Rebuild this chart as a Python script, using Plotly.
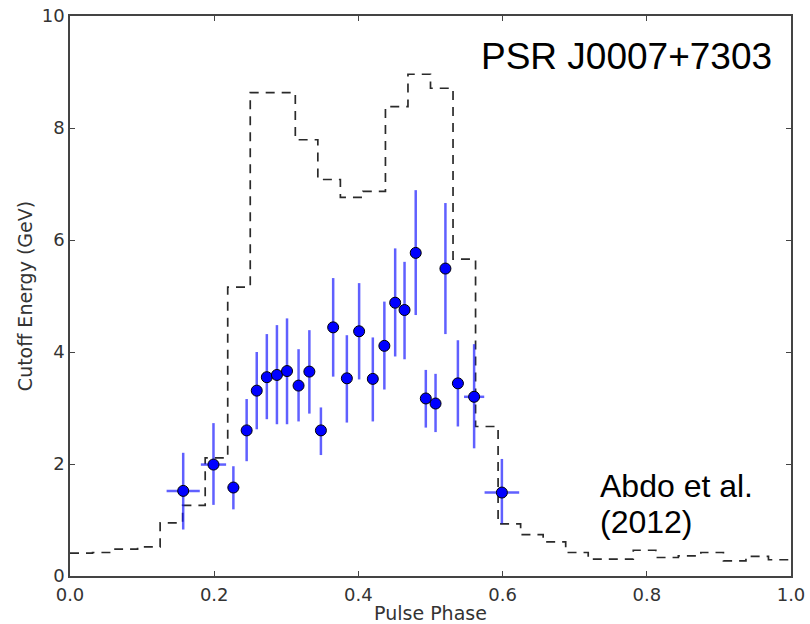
import plotly.graph_objects as go

# Dashed histogram (pulse profile, scaled)
hist_edges = [0.0, 0.03125, 0.0625, 0.09375, 0.125, 0.15625, 0.1875, 0.21875,
              0.25, 0.28125, 0.3125, 0.34375, 0.375, 0.40625, 0.4375, 0.46875,
              0.5, 0.53125, 0.5625, 0.59375, 0.625, 0.65625, 0.6875, 0.71875,
              0.75, 0.78125, 0.8125, 0.84375, 0.875, 0.90625, 0.9375, 0.96875, 1.0]
hist_vals = [0.41, 0.42, 0.48, 0.52, 0.95, 1.26, 2.11, 5.16,
             8.63, 8.63, 7.79, 7.08, 6.76, 6.87, 8.38, 8.96,
             8.71, 5.66, 2.67, 0.93, 0.74, 0.61, 0.42, 0.30,
             0.30, 0.46, 0.33, 0.36, 0.42, 0.27, 0.35, 0.29]

# Cutoff energy points
phase = [0.157, 0.199, 0.2266, 0.245, 0.259, 0.273, 0.287, 0.301, 0.317, 0.332,
         0.348, 0.365, 0.384, 0.401, 0.420, 0.436, 0.451, 0.464, 0.4795, 0.4935,
         0.507, 0.5207, 0.538, 0.5605, 0.599]
energy = [1.52, 1.99, 1.58, 2.60, 3.31, 3.55, 3.59, 3.66, 3.40, 3.65,
          2.60, 4.44, 3.53, 4.37, 3.52, 4.11, 4.88, 4.75, 5.77, 3.17,
          3.08, 5.49, 3.44, 3.20, 1.49]
err_hi = [0.68, 0.74, 0.38, 0.56, 0.69, 0.77, 0.89, 0.94, 0.65, 0.74,
          0.41, 0.88, 0.77, 0.86, 0.74, 0.79, 0.97, 0.86, 1.12, 0.51,
          0.53, 1.17, 0.77, 0.94, 0.60]
err_lo = [0.69, 0.72, 0.39, 0.55, 0.69, 0.75, 0.88, 0.95, 0.64, 0.75,
          0.44, 0.88, 0.79, 0.86, 0.76, 0.78, 0.96, 0.88, 1.11, 0.52,
          0.51, 1.17, 0.77, 0.92, 0.55]
phase_err = [0.023, 0.0175, 0.008, 0.006, 0.006, 0.006, 0.006, 0.006, 0.006, 0.006,
             0.006, 0.006, 0.006, 0.006, 0.006, 0.006, 0.006, 0.006, 0.006, 0.006,
             0.006, 0.006, 0.008, 0.014, 0.024]

x_ticks = [0.0, 0.2, 0.4, 0.6, 0.8, 1.0]
x_ticklabels = ["0.0", "0.2", "0.4", "0.6", "0.8", "1.0"]
y_ticks = [0, 2, 4, 6, 8, 10]
y_ticklabels = ["0", "2", "4", "6", "8", "10"]

fig = go.Figure()

fig.add_trace(go.Scatter(
    x=hist_edges,
    y=hist_vals + [hist_vals[-1]],
    mode="lines",
    line=dict(shape="hv", color="#2a2a2a", width=1.7, dash="9px,7px"),
    hoverinfo="skip",
    showlegend=False,
))

fig.add_trace(go.Scatter(
    x=phase,
    y=energy,
    mode="markers",
    marker=dict(color="#0000ff", size=11, line=dict(color="black", width=1)),
    error_y=dict(type="data", symmetric=False, array=err_hi, arrayminus=err_lo,
                 color="rgba(20,20,255,0.68)", thickness=2.5, width=0),
    error_x=dict(type="data", array=phase_err,
                 color="rgba(20,20,255,0.68)", thickness=2.5, width=0),
    showlegend=False,
))

axis_common = dict(
    showline=True, linecolor="#444444", linewidth=1.5, mirror="ticks",
    ticks="inside", ticklen=5, tickwidth=1, tickcolor="#444444",
    showgrid=False, zeroline=False, automargin=False,
    tickfont=dict(family="DejaVu Sans", size=18, color="#333333"),
    title_font=dict(family="DejaVu Sans", size=19, color="#333333"),
)

fig.update_xaxes(range=[0, 1.0], tickvals=x_ticks, ticktext=x_ticklabels,
                 ticklabelstandoff=2,
                 title_text="Pulse Phase", title_standoff=5, **axis_common)
fig.update_yaxes(range=[0, 10], tickvals=y_ticks, ticktext=y_ticklabels,
                 title_text="Cutoff Energy (GeV)", title_standoff=4, **axis_common)

fig.add_annotation(xref="paper", yref="paper", x=0.976, y=0.928,
                   xanchor="right", yanchor="middle", showarrow=False,
                   text="PSR J0007+7303",
                   font=dict(family="Liberation Sans", size=37, color="black"))
fig.add_annotation(xref="paper", yref="paper", x=0.732, y=0.161,
                   xanchor="left", yanchor="middle", showarrow=False,
                   text="Abdo et al.",
                   font=dict(family="Liberation Sans", size=32, color="black"))
fig.add_annotation(xref="paper", yref="paper", x=0.732, y=0.097,
                   xanchor="left", yanchor="middle", showarrow=False,
                   text="(2012)",
                   font=dict(family="Liberation Sans", size=32, color="black"))

fig.update_layout(
    width=810, height=624,
    margin=dict(l=70, r=19, t=16, b=48),
    plot_bgcolor="white", paper_bgcolor="white",
)

fig.write_html("out.html")
